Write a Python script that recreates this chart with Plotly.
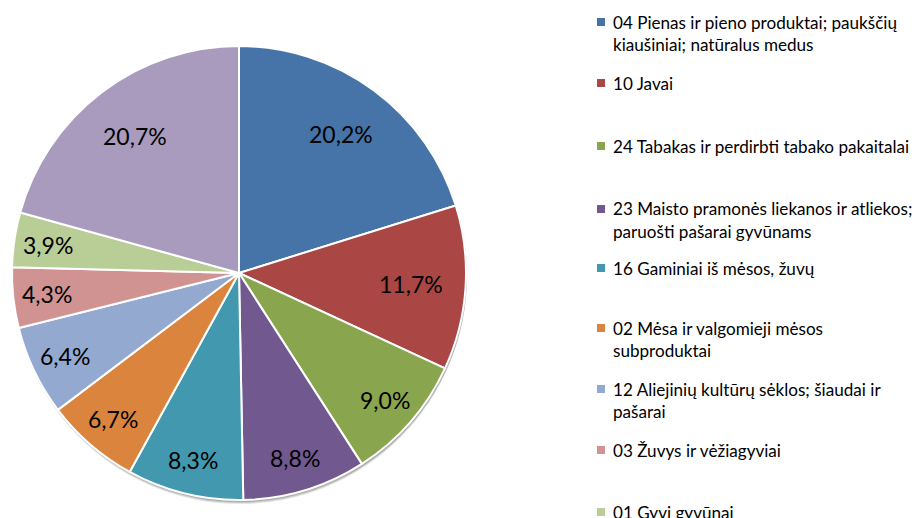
import math
import plotly.graph_objects as go

# Share of agricultural exports by product group, %
categories = [
    "04 Pienas ir pieno produktai; paukščių<br>kiaušiniai; natūralus medus",
    "10 Javai",
    "24 Tabakas ir perdirbti tabako pakaitalai",
    "23 Maisto pramonės liekanos ir atliekos;<br>paruošti pašarai gyvūnams",
    "16 Gaminiai iš mėsos, žuvų",
    "02 Mėsa ir valgomieji mėsos<br>subproduktai",
    "12 Aliejinių kultūrų sėklos; šiaudai ir<br>pašarai",
    "03 Žuvys ir vėžiagyviai",
    "01 Gyvi gyvūnai",
    "Kiti",
]
shares = [20.2, 11.7, 9.0, 8.8, 8.3, 6.7, 6.4, 4.3, 3.9, 20.7]

colors = ["#4673A8", "#AA4744", "#89A54E", "#71588F", "#4298AF",
          "#DB843D", "#93A9CF", "#D19392", "#B9CD96", "#A99BBD"]

W, H = 918, 518
CX, CY, R = 239, 273, 227          # pie centre / radius in pixels (from top-left)
FONT = "Lato, Open Sans, sans-serif"


def px(x):
    return x / W


def py(y):
    return 1 - y / H


fig = go.Figure()

fig.add_trace(go.Pie(
    labels=categories,
    values=shares,
    sort=False,
    direction="clockwise",
    rotation=0,
    marker=dict(colors=colors, line=dict(color="white", width=2)),
    textinfo="none",
    hoverinfo="label+percent",
    showlegend=False,
    domain=dict(x=[px(CX - R), px(CX + R)], y=[py(CY + R), py(CY - R)]),
))

# soft drop shadow under the pie
shapes = []
for off, op in [(4, 0.10), (3, 0.12), (2, 0.15)]:
    shapes.append(dict(
        type="circle", xref="paper", yref="paper", layer="below",
        x0=px(CX - R + 1), x1=px(CX + R + 1),
        y0=py(CY + R + off), y1=py(CY - R + off),
        fillcolor=f"rgba(0,0,0,{op})", line=dict(width=0),
    ))

annotations = []

# percentage labels placed along each slice's mid-angle;
# wide slices keep their label a little closer to the centre
total = sum(shares)
cum = 0.0
for v in shares:
    mid = (cum + v / 2) / total * 2 * math.pi
    cum += v
    rr = (0.76 if v > 10 else 0.85) * R
    x = CX + rr * math.sin(mid)
    y = CY - rr * math.cos(mid)
    annotations.append(dict(
        x=px(x), y=py(y), xref="paper", yref="paper",
        text=f"{v:.1f}%".replace(".", ","),
        showarrow=False, xanchor="center", yanchor="middle",
        font=dict(family=FONT, size=23, color="#000000"),
    ))

# legend rows: first-line centre of each entry, in pixels from the top
row_y = [22, 83, 146, 209, 268, 328, 389, 450, 512, 573]
LINE_H = 22
for name, col, y0 in zip(categories, colors, row_y):
    shapes.append(dict(
        type="rect", xref="paper", yref="paper",
        x0=px(597), x1=px(605), y0=py(y0 + 4), y1=py(y0 - 4),
        fillcolor=col, line=dict(width=0),
    ))
    for k, line in enumerate(name.split("<br>")):
        annotations.append(dict(
            x=px(611), y=py(y0 + k * LINE_H), xref="paper", yref="paper",
            text=line, showarrow=False, xanchor="left", yanchor="middle",
            font=dict(family=FONT, size=17.1, color="#000000"),
        ))

fig.update_layout(
    width=W, height=H,
    margin=dict(l=0, r=0, t=0, b=0),
    paper_bgcolor="white",
    plot_bgcolor="white",
    shapes=shapes,
    annotations=annotations,
)

fig.write_html("out.html", config={"displayModeBar": False})
